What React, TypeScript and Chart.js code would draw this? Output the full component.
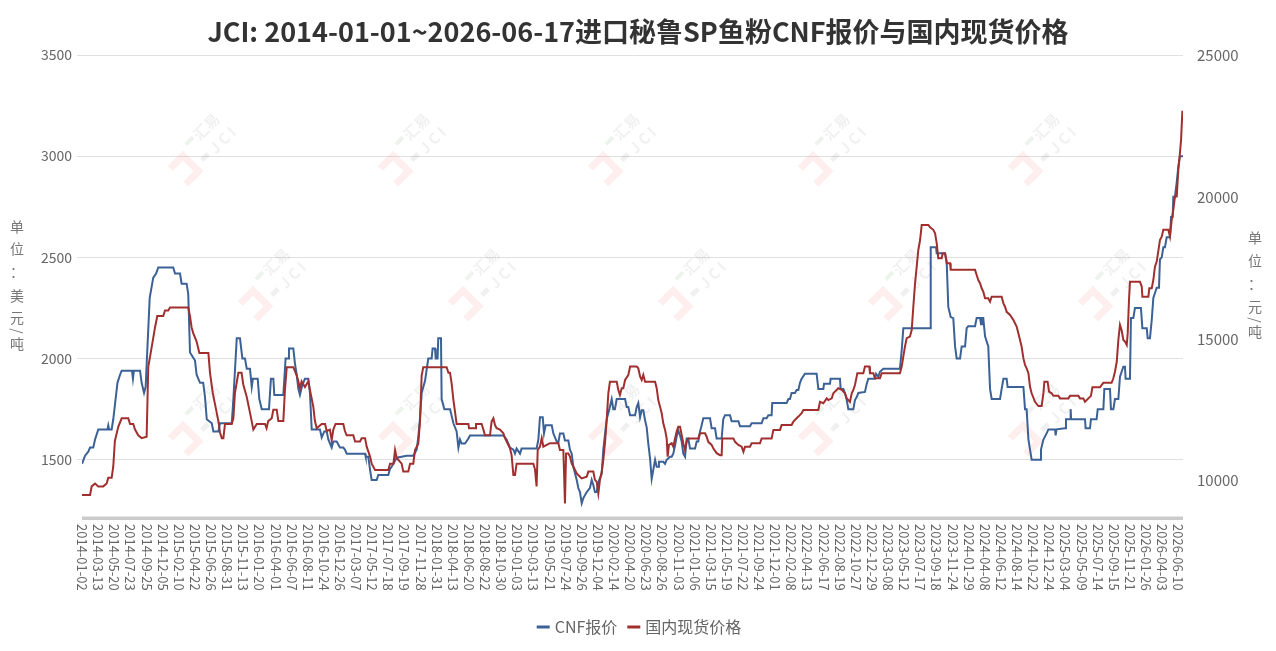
import { useEffect, useRef } from "react";
import { Chart, registerables, type ChartOptions, type Plugin } from "chart.js";

Chart.register(...registerables);

const FONT = '"Noto Sans CJK SC", "Noto Sans", sans-serif';
const TITLE = "JCI: 2014-01-01~2026-06-17进口秘鲁SP鱼粉CNF报价与国内现货价格";

// category labels shown under the axis (one per tick step)
const tickDates = [
  "2014-01-02", "2014-03-13", "2014-05-20", "2014-07-23", "2014-09-25", "2014-12-05",
  "2015-02-10", "2015-04-22", "2015-06-26", "2015-08-31", "2015-11-13", "2016-01-20",
  "2016-04-01", "2016-06-07", "2016-08-11", "2016-10-24", "2016-12-26", "2017-03-07",
  "2017-05-12", "2017-07-18", "2017-09-19", "2017-11-28", "2018-01-31", "2018-04-13",
  "2018-06-20", "2018-08-22", "2018-10-30", "2019-01-03", "2019-03-13", "2019-05-21",
  "2019-07-24", "2019-09-26", "2019-12-04", "2020-02-14", "2020-04-20", "2020-06-23",
  "2020-08-26", "2020-11-03", "2021-01-06", "2021-03-15", "2021-05-19", "2021-07-22",
  "2021-09-24", "2021-12-01", "2022-02-08", "2022-04-13", "2022-06-17", "2022-08-19",
  "2022-10-27", "2022-12-29", "2023-03-08", "2023-05-12", "2023-07-17", "2023-09-18",
  "2023-11-24", "2024-01-29", "2024-04-08", "2024-06-12", "2024-08-14", "2024-10-22",
  "2024-12-24", "2025-03-04", "2025-05-09", "2025-07-14", "2025-09-15", "2025-11-21",
  "2026-01-26", "2026-04-03", "2026-06-10",
];
// last observation (2026-06-17) sits a little past the last label
const lastIndex = 68.3;

// [position in label steps, USD/t]
const cnfPrice: [number, number][] = [
  [0, 1480], [0.19, 1520], [0.39, 1540], [0.5, 1560], [0.7, 1560], [0.81, 1600], [1.01, 1650],
  [1.58, 1650], [1.63, 1670], [1.68, 1650], [1.84, 1650], [1.94, 1700], [2.2, 1880], [2.36, 1920],
  [2.46, 1940], [3.1, 1940], [3.16, 1900], [3.22, 1940], [3.6, 1940], [3.7, 1880], [3.85, 1830],
  [3.95, 1860], [4.05, 2040], [4.2, 2300], [4.42, 2400], [4.6, 2420], [4.73, 2450], [5.66, 2450],
  [5.77, 2420], [6.08, 2420], [6.18, 2370], [6.49, 2370], [6.59, 2320], [6.7, 2030], [7.01, 1990],
  [7.11, 1920], [7.32, 1880], [7.52, 1880], [7.63, 1810], [7.74, 1700], [8.05, 1680], [8.15, 1640],
  [8.46, 1640], [8.56, 1680], [9.29, 1680], [9.39, 1800], [9.6, 2100], [9.8, 2100], [9.95, 2000],
  [10.11, 2000], [10.22, 1950], [10.42, 1950], [10.53, 1860], [10.6, 1900], [10.9, 1900], [11.0, 1800],
  [11.15, 1750], [11.6, 1750], [11.72, 1900], [11.87, 1900], [11.93, 1820], [12.49, 1820], [12.63, 2000],
  [12.8, 2000], [12.84, 2050], [13.11, 2050], [13.21, 1975], [13.32, 1920], [13.42, 1850], [13.52, 1820],
  [13.67, 1870], [13.83, 1900], [14.04, 1900], [14.14, 1830], [14.25, 1650], [14.76, 1650], [14.87, 1610],
  [15.03, 1640], [15.18, 1640], [15.28, 1600], [15.49, 1560], [15.59, 1590], [15.8, 1590], [16.0, 1560],
  [16.21, 1560], [16.31, 1550], [16.42, 1530], [17.56, 1530], [17.6, 1515], [17.76, 1515], [17.87, 1450],
  [17.97, 1400], [18.28, 1400], [18.38, 1425], [19.0, 1425], [19.11, 1455], [19.21, 1465], [19.52, 1510],
  [20.14, 1520], [20.55, 1520], [20.76, 1550], [20.86, 1610], [20.97, 1710], [21.07, 1830], [21.28, 1890],
  [21.48, 2000], [21.69, 2000], [21.75, 2050], [21.9, 2050], [21.94, 2000], [22.06, 2000], [22.1, 2100],
  [22.27, 2100], [22.31, 1800], [22.48, 1750], [22.83, 1750], [23.04, 1680], [23.24, 1640], [23.35, 1560],
  [23.45, 1600], [23.55, 1580], [23.76, 1580], [23.97, 1605], [24.07, 1620], [26.14, 1620], [26.34, 1600],
  [26.55, 1560], [26.76, 1550], [26.86, 1530], [26.96, 1555], [27.17, 1530], [27.27, 1555], [28.2, 1555],
  [28.31, 1600], [28.41, 1710], [28.58, 1710], [28.66, 1630], [28.76, 1670], [29.14, 1670], [29.24, 1630],
  [29.45, 1590], [29.55, 1585], [29.65, 1630], [29.86, 1630], [29.96, 1595], [30.17, 1595], [30.27, 1550],
  [30.38, 1530], [30.48, 1465], [30.69, 1400], [30.79, 1360], [30.89, 1340], [31.0, 1285], [31.1, 1310],
  [31.2, 1325], [31.31, 1340], [31.51, 1360], [31.62, 1400], [31.72, 1375], [31.82, 1340], [31.93, 1340],
  [32.03, 1390], [32.24, 1430], [32.34, 1550], [32.45, 1630], [32.55, 1700], [32.71, 1750], [32.86, 1800],
  [32.96, 1750], [33.06, 1750], [33.17, 1800], [33.69, 1800], [33.79, 1760], [33.89, 1760], [34.0, 1720],
  [34.31, 1720], [34.41, 1760], [34.51, 1780], [34.62, 1710], [34.72, 1745], [34.82, 1745], [34.93, 1695],
  [35.03, 1660], [35.13, 1580], [35.24, 1505], [35.34, 1405], [35.44, 1450], [35.55, 1500], [35.65, 1465],
  [35.75, 1465], [35.79, 1490], [36.06, 1490], [36.17, 1480], [36.27, 1500], [36.48, 1515], [36.58, 1515],
  [36.68, 1530], [36.79, 1570], [36.89, 1615], [36.99, 1645], [37.1, 1620], [37.2, 1590], [37.3, 1530],
  [37.41, 1515], [37.51, 1605], [37.61, 1605], [37.72, 1555], [38.03, 1555], [38.13, 1590], [38.23, 1590],
  [38.34, 1640], [38.44, 1670], [38.54, 1705], [38.96, 1705], [39.06, 1655], [39.27, 1655], [39.37, 1605],
  [39.68, 1605], [39.78, 1700], [39.89, 1720], [40.2, 1720], [40.3, 1690], [40.72, 1690], [40.82, 1665],
  [41.44, 1665], [41.54, 1680], [42.16, 1680], [42.27, 1705], [42.47, 1705], [42.58, 1720], [42.78, 1720],
  [42.82, 1780], [43.71, 1780], [43.82, 1800], [43.92, 1800], [44.02, 1830], [44.23, 1830], [44.33, 1845],
  [44.44, 1845], [44.54, 1880], [44.64, 1900], [44.85, 1925], [45.57, 1925], [45.68, 1850], [45.99, 1850],
  [46.03, 1875], [46.4, 1875], [46.44, 1900], [47.02, 1900], [47.06, 1850], [47.23, 1850], [47.33, 1830],
  [47.44, 1795], [47.54, 1750], [47.85, 1750], [47.95, 1795], [48.06, 1810], [48.16, 1830], [48.57, 1835],
  [48.68, 1875], [48.78, 1900], [49.19, 1900], [49.26, 1925], [49.4, 1910], [49.5, 1935], [49.71, 1950],
  [50.74, 1950], [50.85, 2040], [50.95, 2150], [52.61, 2150], [52.65, 2550], [52.98, 2550], [53.02, 2520],
  [53.54, 2520], [53.64, 2480], [53.74, 2255], [53.89, 2205], [54.05, 2200], [54.16, 2060], [54.26, 2000],
  [54.47, 2000], [54.57, 2060], [54.78, 2060], [54.88, 2150], [54.98, 2160], [55.4, 2160], [55.5, 2200],
  [55.71, 2200], [55.77, 2170], [55.83, 2200], [55.91, 2200], [56.02, 2110], [56.22, 2060], [56.33, 1850],
  [56.43, 1800], [56.95, 1800], [57.05, 1850], [57.16, 1900], [57.36, 1900], [57.42, 1860], [58.4, 1860],
  [58.5, 1750], [58.6, 1750], [58.71, 1600], [58.81, 1550], [58.91, 1500], [59.43, 1500], [59.49, 1550],
  [59.64, 1600], [59.84, 1630], [59.95, 1650], [60.36, 1650], [60.4, 1620], [60.45, 1650], [60.98, 1655],
  [61.04, 1700], [61.3, 1700], [61.33, 1750], [61.36, 1700], [62.22, 1700], [62.26, 1655], [62.53, 1655],
  [62.59, 1700], [62.94, 1700], [63.01, 1750], [63.36, 1750], [63.42, 1850], [63.77, 1850], [63.83, 1750],
  [63.98, 1750], [64.08, 1800], [64.29, 1800], [64.39, 1910], [64.6, 1960], [64.7, 1960], [64.74, 1900],
  [65.01, 1900], [65.07, 2200], [65.22, 2200], [65.32, 2250], [65.69, 2250], [65.78, 2150], [66.05, 2150],
  [66.11, 2100], [66.25, 2100], [66.36, 2190], [66.46, 2300], [66.67, 2350], [66.81, 2350], [66.87, 2490],
  [66.98, 2500], [67.08, 2550], [67.18, 2550], [67.29, 2600], [67.49, 2600], [67.56, 2700], [67.66, 2700],
  [67.7, 2800], [67.8, 2800], [67.91, 2870], [68.01, 2950], [68.11, 3000], [68.3, 3000],
];

// [position in label steps, CNY/t]
const spotPrice: [number, number][] = [
  [0, 9500], [0.5, 9500], [0.6, 9800], [0.81, 9900], [1.01, 9800], [1.32, 9800], [1.53, 9900],
  [1.63, 10100], [1.84, 10100], [1.94, 10500], [2.04, 11400], [2.25, 11900], [2.46, 12200], [2.87, 12200],
  [2.98, 12000], [3.18, 12000], [3.29, 11800], [3.49, 11600], [3.7, 11500], [4.01, 11550], [4.11, 14000],
  [4.32, 14700], [4.53, 15400], [4.67, 15800], [5.04, 15800], [5.15, 16000], [5.35, 16000], [5.46, 16100],
  [6.59, 16100], [6.7, 15800], [6.8, 15400], [6.9, 15200], [7.11, 14900], [7.28, 14500], [7.84, 14500],
  [7.94, 13800], [8.11, 13100], [8.25, 12700], [8.46, 12100], [8.56, 11700], [8.67, 11500], [8.77, 11500],
  [8.87, 12000], [9.29, 12000], [9.39, 12200], [9.49, 13100], [9.7, 13800], [9.9, 13800], [10.0, 13400],
  [10.22, 12950], [10.42, 12400], [10.63, 11800], [10.84, 12000], [11.35, 12000], [11.45, 11850],
  [11.55, 12100], [11.77, 12200], [11.87, 12500], [12.08, 12500], [12.18, 12100], [12.49, 12100],
  [12.59, 13200], [12.7, 14000], [13.11, 14000], [13.32, 13700], [13.42, 13500], [13.52, 13250],
  [13.62, 13500], [13.83, 13300], [14.04, 13500], [14.14, 13200], [14.35, 12600], [14.45, 12100],
  [14.56, 11850], [14.87, 12000], [15.08, 12000], [15.18, 11750], [15.38, 11800], [15.49, 11430],
  [15.59, 11800], [15.73, 12000], [16.21, 12000], [16.31, 11750], [16.42, 11600], [16.83, 11600],
  [16.94, 11380], [17.25, 11380], [17.35, 11500], [17.56, 11500], [17.66, 11200], [17.87, 10850],
  [17.97, 10600], [18.18, 10380], [19.0, 10380], [19.11, 10600], [19.32, 10600], [19.42, 11080],
  [19.52, 10800], [19.83, 10600], [19.93, 10320], [20.24, 10320], [20.35, 10600], [20.55, 10600],
  [20.66, 11080], [20.86, 11300], [20.97, 12100], [21.07, 13700], [21.17, 14000], [22.62, 14000],
  [22.73, 13800], [22.83, 13800], [22.93, 13430], [23.04, 12850], [23.24, 12000], [23.97, 12000],
  [24.01, 11850], [24.38, 11850], [24.44, 12000], [24.79, 12000], [24.9, 11800], [25.0, 11600],
  [25.31, 11600], [25.41, 12080], [25.52, 12200], [25.62, 11960], [25.72, 11850], [25.93, 11800],
  [26.14, 11670], [26.24, 11500], [26.45, 11260], [26.55, 11140], [26.65, 10900], [26.76, 10200],
  [26.86, 10200], [26.96, 10600], [28.0, 10600], [28.1, 10400], [28.2, 9800], [28.27, 11080],
  [28.41, 11200], [28.52, 11500], [28.62, 11200], [28.83, 11260], [29.03, 11320], [29.55, 11320],
  [29.65, 11080], [29.86, 11080], [29.96, 9200], [30.03, 10960], [30.17, 10960], [30.27, 10850],
  [30.38, 10600], [30.48, 10500], [30.69, 10260], [30.89, 10140], [31.0, 10080], [31.31, 10140],
  [31.41, 10320], [31.72, 10320], [31.82, 10030], [31.93, 9960], [32.03, 9550], [32.13, 10030],
  [32.24, 10320], [32.34, 10730], [32.45, 11370], [32.55, 12140], [32.65, 13080], [32.75, 13490],
  [33.17, 13490], [33.27, 13200], [33.37, 13020], [33.48, 13260], [33.58, 13260], [33.69, 13550],
  [33.89, 13720], [34.0, 14020], [34.41, 14020], [34.51, 13960], [34.62, 13670], [34.72, 13550],
  [34.82, 13730], [34.93, 13490], [35.55, 13490], [35.65, 13260], [35.75, 12840], [35.86, 12610],
  [35.96, 12380], [36.06, 12020], [36.17, 11790], [36.27, 11490], [36.33, 10850], [36.41, 11260],
  [36.58, 11320], [36.68, 11200], [36.79, 11490], [36.89, 11730], [36.99, 11900], [37.1, 11900],
  [37.2, 11610], [37.3, 11320], [37.41, 11080], [37.51, 11370], [37.61, 11490], [38.23, 11490],
  [38.34, 11670], [38.65, 11670], [38.75, 11550], [38.85, 11370], [39.06, 11260], [39.16, 11140],
  [39.37, 10970], [39.58, 10900], [39.68, 10900], [39.72, 11490], [40.41, 11490], [40.51, 11370],
  [40.72, 11260], [40.92, 11200], [41.03, 11020], [41.13, 11200], [41.44, 11200], [41.54, 11320],
  [42.06, 11320], [42.16, 11490], [42.78, 11490], [42.89, 11790], [43.3, 11790], [43.4, 11960],
  [44.02, 11960], [44.13, 12080], [44.33, 12200], [44.44, 12260], [44.64, 12380], [44.75, 12490],
  [45.68, 12490], [45.78, 12780], [45.99, 12730], [46.2, 12900], [46.3, 12840], [46.51, 12900],
  [46.61, 13080], [46.71, 13140], [46.92, 13260], [47.13, 13200], [47.33, 13080], [47.44, 12900],
  [47.64, 12780], [47.75, 13080], [47.85, 13200], [47.95, 13370], [48.1, 13790], [48.47, 13790],
  [48.57, 14020], [48.84, 14020], [48.88, 13790], [49.09, 13790], [49.19, 13610], [49.5, 13610],
  [49.61, 13790], [50.74, 13790], [50.85, 14020], [50.95, 14370], [51.05, 14720], [51.16, 15020],
  [51.36, 15080], [51.47, 15310], [51.57, 16130], [51.68, 16960], [51.78, 17540], [51.88, 18130],
  [51.99, 18480], [52.09, 19010], [52.5, 19010], [52.61, 18930], [52.81, 18840], [52.92, 18720],
  [53.02, 18370], [53.12, 17840], [53.33, 17840], [53.39, 18010], [53.54, 18010], [53.64, 17660],
  [53.85, 17660], [53.89, 17430], [55.4, 17430], [55.5, 17250], [55.6, 17070], [55.71, 16960],
  [55.81, 16780], [55.91, 16660], [56.02, 16430], [56.22, 16430], [56.33, 16310], [56.43, 16480],
  [57.05, 16480], [57.16, 16250], [57.26, 16130], [57.36, 15950], [57.57, 15840], [57.78, 15660],
  [57.98, 15430], [58.09, 15190], [58.19, 14960], [58.29, 14720], [58.4, 14310], [58.5, 14080],
  [58.6, 13960], [58.71, 13790], [58.81, 13310], [58.91, 13080], [59.12, 12780], [59.33, 12630],
  [59.53, 12630], [59.64, 13080], [59.7, 13490], [59.9, 13490], [59.99, 13140], [60.15, 13080],
  [60.26, 12990], [60.57, 12990], [60.67, 12900], [61.19, 12900], [61.29, 12990], [61.81, 12990],
  [61.91, 12900], [62.12, 12900], [62.22, 12780], [62.43, 12900], [62.59, 12990], [62.68, 13290],
  [63.15, 13290], [63.25, 13370], [63.36, 13450], [63.87, 13450], [63.98, 13610], [64.08, 13840],
  [64.19, 14190], [64.29, 14960], [64.39, 15490], [64.49, 15310], [64.6, 14960], [64.7, 14900],
  [64.81, 14780], [64.87, 15200], [64.95, 16370], [65.01, 17010], [65.63, 17010], [65.74, 16840],
  [65.78, 16480], [66.15, 16480], [66.21, 16780], [66.36, 16780], [66.46, 17070], [66.56, 17540],
  [66.67, 17720], [66.87, 18480], [66.98, 18600], [67.08, 18840], [67.39, 18840], [67.49, 18600],
  [67.6, 19190], [67.7, 19540], [67.8, 20010], [67.91, 20010], [68.01, 20950], [68.11, 21540],
  [68.18, 22010], [68.26, 23000], [68.3, 23000],
];

const leftTicks = [1500, 2000, 2500, 3000, 3500];
const rightTicks = [10000, 15000, 20000, 25000];

const BLUE = "#3b6196";
const RED = "#a0302f";

function drawMark(ctx: CanvasRenderingContext2D, cx: number, cy: number) {
  ctx.save();
  ctx.translate(cx, cy);
  ctx.rotate(-Math.PI / 4);
  ctx.lineCap = "butt";
  ctx.strokeStyle = "rgba(244, 120, 120, 0.13)";
  ctx.lineWidth = 7;
  ctx.beginPath();
  ctx.moveTo(-34, -8);
  ctx.lineTo(-16, -8);
  ctx.lineTo(-16, 14);
  ctx.lineTo(-34, 14);
  ctx.stroke();
  ctx.fillStyle = "rgba(120, 180, 120, 0.14)";
  ctx.fillRect(-6, -16, 10, 4);
  ctx.fillStyle = "rgba(0, 0, 0, 0.06)";
  ctx.fillRect(-6, 6, 9, 5);
  ctx.font = `bold 15px ${FONT}`;
  ctx.textAlign = "left";
  ctx.textBaseline = "middle";
  ctx.fillText("汇易", 6, -12);
  ctx.fillText("J C I", 8, 9);
  ctx.restore();
}

const decor: Plugin<"line"> = {
  id: "decor",
  beforeDatasetsDraw(chart) {
    const { ctx } = chart;
    const rows = [
      { y: 150, xs: [200, 410, 620, 830, 1040] },
      { y: 285, xs: [270, 480, 690, 900, 1110] },
      { y: 420, xs: [200, 410, 620, 830, 1040] },
    ];
    rows.forEach((r) => r.xs.forEach((x) => drawMark(ctx, x, r.y)));
  },
  afterDraw(chart) {
    const { ctx, chartArea, scales } = chart;
    const xs = scales.x;
    ctx.save();

    // title
    ctx.fillStyle = "#333";
    ctx.font = `bold 27px ${FONT}`;
    ctx.textAlign = "center";
    ctx.textBaseline = "middle";
    ctx.fillText(TITLE, 638, 32);

    // bottom axis bar
    ctx.fillStyle = "#cbcbcb";
    ctx.fillRect(chartArea.left, chartArea.bottom - 0.5, chartArea.right - chartArea.left, 3.5);

    // date labels, turned clockwise
    ctx.fillStyle = "#666";
    ctx.font = `13px ${FONT}`;
    ctx.textAlign = "left";
    ctx.textBaseline = "middle";
    tickDates.forEach((d, i) => {
      const x = xs.getPixelForValue(i);
      ctx.save();
      ctx.translate(x, chartArea.bottom + 7);
      ctx.rotate(Math.PI / 2);
      ctx.fillText(d, 0, 0);
      ctx.restore();
    });

    // axis names, one glyph per line
    ctx.fillStyle = "#777";
    ctx.font = `14px ${FONT}`;
    ctx.textAlign = "center";
    const leftName: [string, number][] = [
      ["单", 227], ["位", 249], ["：", 272], ["美", 296], ["元", 318], ["/", 331], ["吨", 344],
    ];
    const rightName: [string, number][] = [
      ["单", 238], ["位", 261], ["：", 284], ["元", 307], ["/", 320], ["吨", 332],
    ];
    const put = (x: number, list: [string, number][]) =>
      list.forEach(([c, y]) => {
        ctx.save();
        ctx.translate(x, y);
        if (c === "/") ctx.rotate(Math.PI / 2);
        ctx.fillText(c, 0, 0);
        ctx.restore();
      });
    put(17, leftName);
    put(1255, rightName);

    // legend
    ctx.font = `16px ${FONT}`;
    ctx.textAlign = "left";
    const items = [
      { text: "CNF报价", color: BLUE },
      { text: "国内现货价格", color: RED },
    ];
    const widths = items.map((it) => ctx.measureText(it.text).width);
    const total = widths.reduce((a, w) => a + w + 13 + 5, 0) + 10;
    let lx = 639 - total / 2;
    const ly = 627;
    items.forEach((it, i) => {
      ctx.strokeStyle = it.color;
      ctx.lineWidth = 3;
      ctx.beginPath();
      ctx.moveTo(lx, ly);
      ctx.lineTo(lx + 13, ly);
      ctx.stroke();
      ctx.fillStyle = "#666";
      ctx.fillText(it.text, lx + 18, ly);
      lx += 18 + widths[i] + 10;
    });
    ctx.restore();
  },
};

export default function App() {
  const canvasRef = useRef<HTMLCanvasElement>(null);
  const chartRef = useRef<Chart<"line"> | null>(null);

  useEffect(() => {
    if (!canvasRef.current) return;

    const options: ChartOptions<"line"> = {
      animation: false,
      responsive: true,
      maintainAspectRatio: false,
      layout: { padding: { top: 55, left: 0, right: 0, bottom: 0 } },
      plugins: {
        legend: { display: false },
        title: { display: false },
        tooltip: { enabled: false },
      },
      elements: { point: { radius: 0 }, line: { tension: 0 } },
      scales: {
        x: {
          type: "linear",
          min: 0,
          max: lastIndex,
          ticks: { display: false },
          grid: { display: false },
          border: { display: false },
          afterFit: (s) => {
            s.height = 134;
          },
        },
        y: {
          position: "left",
          min: 1217,
          max: 3500,
          afterBuildTicks: (s) => {
            s.ticks = leftTicks.map((v) => ({ value: v }));
          },
          grid: { color: "#e0e0e0", tickLength: 5 },
          border: { display: false },
          ticks: {
            color: "#666",
            font: { family: FONT, size: 14 },
            padding: 5,
            callback: (v) => String(v),
          },
          afterFit: (s) => {
            s.width = 82;
          },
        },
        y1: {
          position: "right",
          min: 8721,
          max: 25000,
          afterBuildTicks: (s) => {
            s.ticks = rightTicks.map((v) => ({ value: v }));
          },
          grid: { display: false },
          border: { display: false },
          ticks: {
            color: "#666",
            font: { family: FONT, size: 15 },
            padding: 6,
            callback: (v) => String(v),
          },
          afterFit: (s) => {
            s.width = 93;
          },
        },
      },
    };

    chartRef.current = new Chart(canvasRef.current, {
      type: "line",
      data: {
        datasets: [
          {
            label: "CNF报价",
            data: cnfPrice.map(([x, y]) => ({ x, y })),
            yAxisID: "y",
            borderColor: BLUE,
            backgroundColor: BLUE,
            borderWidth: 2,
            order: 1,
          },
          {
            label: "国内现货价格",
            data: spotPrice.map(([x, y]) => ({ x, y })),
            yAxisID: "y1",
            borderColor: RED,
            backgroundColor: RED,
            borderWidth: 2,
            order: 0,
          },
        ],
      },
      options,
      plugins: [decor],
    });

    return () => {
      chartRef.current?.destroy();
    };
  }, []);

  return (
    <div style={{ position: "fixed", left: 0, top: 0, width: 1276, height: 651, background: "#fff" }}>
      <canvas ref={canvasRef} />
    </div>
  );
}
